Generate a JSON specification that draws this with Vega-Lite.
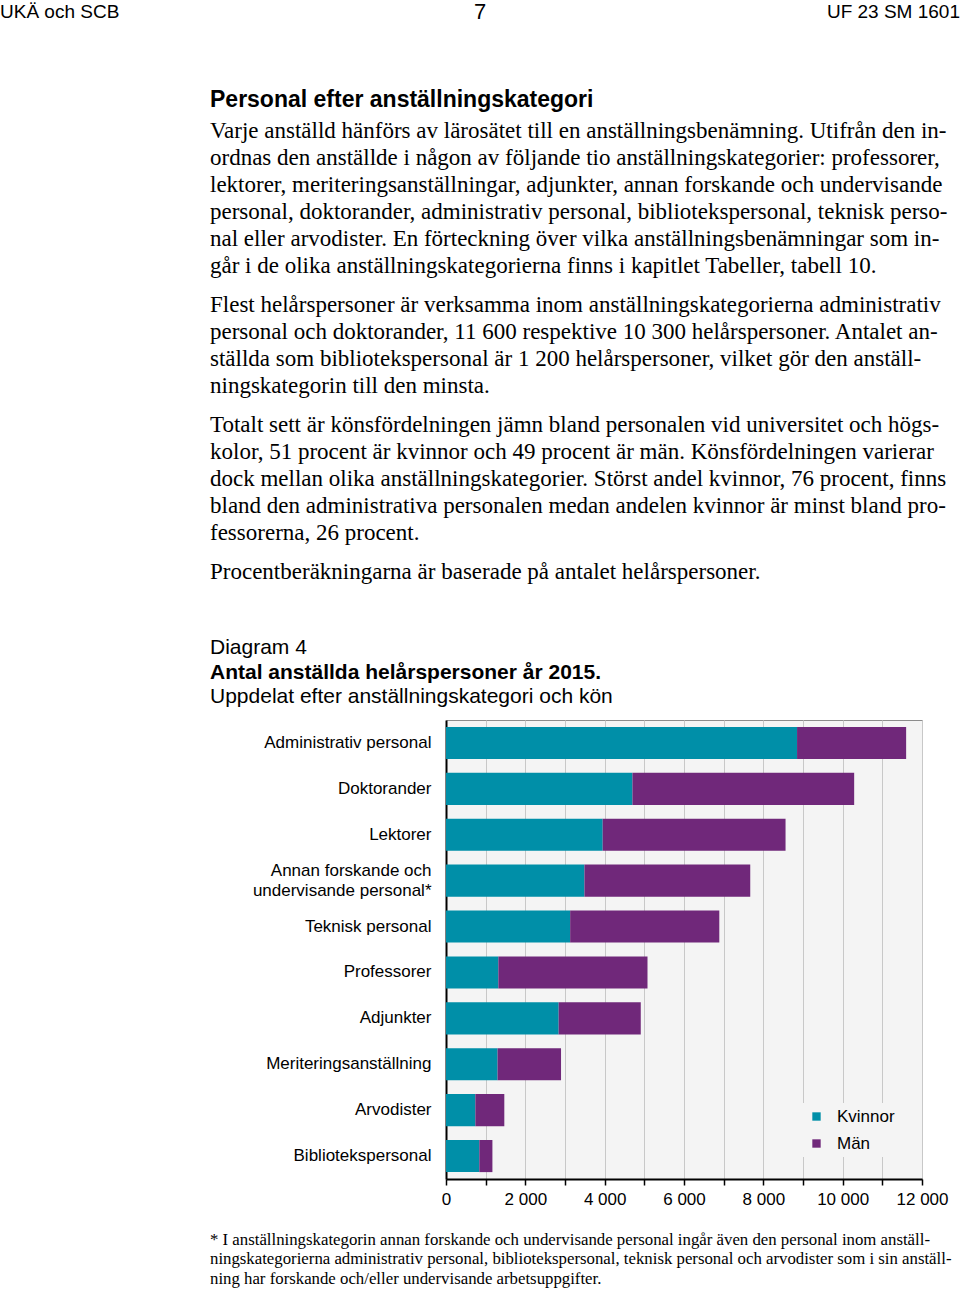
{
  "$schema": "https://vega.github.io/schema/vega-lite/v6.json",
  "padding": 0,
  "background": "white",
  "spacing": 59,
  "config": {"view": {"stroke": null}},
  "resolve": {"scale": {"color": "independent"}, "legend": {"color": "independent"}},
  "vconcat": [
    {
      "width": 960,
      "height": 24,
      "layer": [
        {
          "data": {"values": [{"text": "UKÄ och SCB"}]},
          "mark": {"type": "text", "align": "left", "baseline": "middle", "font": "Liberation Sans", "fontSize": 19, "fill": "black"},
          "encoding": {"text": {"field": "text"}, "x": {"value": 0}}
        },
        {
          "data": {"values": [{"text": "7"}]},
          "mark": {"type": "text", "align": "center", "baseline": "middle", "font": "Liberation Sans", "fontSize": 22, "fill": "black"},
          "encoding": {"text": {"field": "text"}}
        },
        {
          "data": {"values": [{"text": "UF 23 SM 1601"}]},
          "mark": {"type": "text", "align": "right", "baseline": "middle", "font": "Liberation Sans", "fontSize": 19, "fill": "black"},
          "encoding": {"text": {"field": "text"}, "x": {"value": "width"}}
        }
      ]
    },
    {
      "spacing": 0,
      "resolve": {"scale": {"color": "independent"}, "legend": {"color": "independent"}},
      "hconcat": [
        {
          "width": 210,
          "height": 1,
          "data": {"values": []},
          "mark": "point"
        },
        {
          "spacing": 51,
          "resolve": {"scale": {"color": "independent"}, "legend": {"color": "independent"}},
          "vconcat": [
            {
              "spacing": 12,
              "vconcat": [
                {
                  "spacing": 0,
                  "vconcat": [
                    {
                      "width": 750,
                      "height": 34,
                      "data": {"values": [{"text": "Personal efter anställningskategori"}]},
                      "mark": {"type": "text", "align": "left", "baseline": "middle", "font": "Liberation Sans", "fontSize": 23, "fontWeight": "bold", "fill": "black"},
                      "encoding": {"text": {"field": "text"}, "x": {"value": 0}}
                    },
                    {
                      "width": 750,
                      "height": 162,
                      "data": {"values": [
                        {"line": 1, "text": "Varje anställd hänförs av lärosätet till en anställningsbenämning. Utifrån den in-"},
                        {"line": 2, "text": "ordnas den anställde i någon av följande tio anställningskategorier: professorer,"},
                        {"line": 3, "text": "lektorer, meriteringsanställningar, adjunkter, annan forskande och undervisande"},
                        {"line": 4, "text": "personal, doktorander, administrativ personal, bibliotekspersonal, teknisk perso-"},
                        {"line": 5, "text": "nal eller arvodister. En förteckning över vilka anställningsbenämningar som in-"},
                        {"line": 6, "text": "går i de olika anställningskategorierna finns i kapitlet Tabeller, tabell 10."}
                      ]},
                      "mark": {"type": "text", "align": "left", "baseline": "middle", "font": "Liberation Serif", "fontSize": 23, "fill": "black"},
                      "encoding": {"x": {"value": 0}, "y": {"field": "line", "type": "ordinal", "axis": null}, "text": {"field": "text"}}
                    }
                  ]
                },
                {
                  "width": 750,
                  "height": 108,
                  "data": {"values": [
                    {"line": 1, "text": "Flest helårspersoner är verksamma inom anställningskategorierna administrativ"},
                    {"line": 2, "text": "personal och doktorander, 11 600 respektive 10 300 helårspersoner. Antalet an-"},
                    {"line": 3, "text": "ställda som bibliotekspersonal är 1 200 helårspersoner, vilket gör den anställ-"},
                    {"line": 4, "text": "ningskategorin till den minsta."}
                  ]},
                  "mark": {"type": "text", "align": "left", "baseline": "middle", "font": "Liberation Serif", "fontSize": 23, "fill": "black"},
                  "encoding": {"x": {"value": 0}, "y": {"field": "line", "type": "ordinal", "axis": null}, "text": {"field": "text"}}
                },
                {
                  "width": 750,
                  "height": 135,
                  "data": {"values": [
                    {"line": 1, "text": "Totalt sett är könsfördelningen jämn bland personalen vid universitet och högs-"},
                    {"line": 2, "text": "kolor, 51 procent är kvinnor och 49 procent är män. Könsfördelningen varierar"},
                    {"line": 3, "text": "dock mellan olika anställningskategorier. Störst andel kvinnor, 76 procent, finns"},
                    {"line": 4, "text": "bland den administrativa personalen medan andelen kvinnor är minst bland pro-"},
                    {"line": 5, "text": "fessorerna, 26 procent."}
                  ]},
                  "mark": {"type": "text", "align": "left", "baseline": "middle", "font": "Liberation Serif", "fontSize": 23, "fill": "black"},
                  "encoding": {"x": {"value": 0}, "y": {"field": "line", "type": "ordinal", "axis": null}, "text": {"field": "text"}}
                },
                {
                  "width": 750,
                  "height": 27,
                  "data": {"values": [
                    {"line": 1, "text": "Procentberäkningarna är baserade på antalet helårspersoner."}
                  ]},
                  "mark": {"type": "text", "align": "left", "baseline": "middle", "font": "Liberation Serif", "fontSize": 23, "fill": "black"},
                  "encoding": {"x": {"value": 0}, "y": {"field": "line", "type": "ordinal", "axis": null}, "text": {"field": "text"}}
                }
              ]
            },
            {
              "spacing": 22,
              "resolve": {"scale": {"color": "independent"}, "legend": {"color": "independent"}},
              "vconcat": [
                {
                  "spacing": 9,
                  "resolve": {"scale": {"color": "independent"}, "legend": {"color": "independent"}},
                  "vconcat": [
                    {
                      "width": 750,
                      "height": 73.5,
                      "layer": [
                        {
                          "data": {"values": [
                            {"line": 1, "text": "Diagram 4"},
                            {"line": 3, "text": "Uppdelat efter anställningskategori och kön"}
                          ]},
                          "mark": {"type": "text", "align": "left", "baseline": "middle", "font": "Liberation Sans", "fontSize": 21, "fill": "black"},
                          "encoding": {"x": {"value": 0}, "y": {"field": "line", "type": "ordinal", "axis": null, "scale": {"domain": [1, 2, 3]}}, "text": {"field": "text"}}
                        },
                        {
                          "data": {"values": [
                            {"line": 2, "text": "Antal anställda helårspersoner år 2015."}
                          ]},
                          "mark": {"type": "text", "align": "left", "baseline": "middle", "font": "Liberation Sans", "fontSize": 21, "fontWeight": "bold", "fill": "black"},
                          "encoding": {"x": {"value": 0}, "y": {"field": "line", "type": "ordinal", "axis": null, "scale": {"domain": [1, 2, 3]}}, "text": {"field": "text"}}
                        }
                      ]
                    },
                    {
                      "spacing": 0,
                      "resolve": {"scale": {"color": "independent"}, "legend": {"color": "independent"}},
                      "hconcat": [
                        {
                          "width": 1,
                          "height": 1,
                          "data": {"values": []},
                          "mark": "point"
                        },
                        {
                          "width": 476,
                          "height": 459,
                          "view": {"fill": "#f4f4f4", "stroke": "#8c8c8c", "strokeWidth": 1},
                          "data": {"values": [
                            {"kategori": "Administrativ personal", "kon": "Kvinnor", "antal": 8850},
                            {"kategori": "Administrativ personal", "kon": "Män", "antal": 2750},
                            {"kategori": "Doktorander", "kon": "Kvinnor", "antal": 4700},
                            {"kategori": "Doktorander", "kon": "Män", "antal": 5590},
                            {"kategori": "Lektorer", "kon": "Kvinnor", "antal": 3950},
                            {"kategori": "Lektorer", "kon": "Män", "antal": 4610},
                            {"kategori": "Annan forskande och undervisande personal*", "kon": "Kvinnor", "antal": 3490},
                            {"kategori": "Annan forskande och undervisande personal*", "kon": "Män", "antal": 4180},
                            {"kategori": "Teknisk personal", "kon": "Kvinnor", "antal": 3130},
                            {"kategori": "Teknisk personal", "kon": "Män", "antal": 3760},
                            {"kategori": "Professorer", "kon": "Kvinnor", "antal": 1320},
                            {"kategori": "Professorer", "kon": "Män", "antal": 3760},
                            {"kategori": "Adjunkter", "kon": "Kvinnor", "antal": 2840},
                            {"kategori": "Adjunkter", "kon": "Män", "antal": 2070},
                            {"kategori": "Meriteringsanställning", "kon": "Kvinnor", "antal": 1300},
                            {"kategori": "Meriteringsanställning", "kon": "Män", "antal": 1600},
                            {"kategori": "Arvodister", "kon": "Kvinnor", "antal": 740},
                            {"kategori": "Arvodister", "kon": "Män", "antal": 730},
                            {"kategori": "Bibliotekspersonal", "kon": "Kvinnor", "antal": 840},
                            {"kategori": "Bibliotekspersonal", "kon": "Män", "antal": 330}
                          ]},
                          "mark": {"type": "bar"},
                          "encoding": {
                            "y": {
                              "field": "kategori",
                              "type": "nominal",
                              "sort": ["Administrativ personal", "Doktorander", "Lektorer", "Annan forskande och undervisande personal*", "Teknisk personal", "Professorer", "Adjunkter", "Meriteringsanställning", "Arvodister", "Bibliotekspersonal"],
                              "scale": {"paddingInner": 0.3, "paddingOuter": 0.15},
                              "axis": {
                                "title": null,
                                "ticks": false,
                                "grid": false,
                                "labelPadding": 15,
                                "labelFont": "Liberation Sans",
                                "labelFontSize": 17,
                                "labelColor": "black",
                                "labelLimit": 400,
                                "labelLineHeight": 20,
                                "labelExpr": "datum.label == 'Annan forskande och undervisande personal*' ? ['Annan forskande och', 'undervisande personal*'] : datum.label",
                                "labelOffset": {"condition": {"test": "datum.value == 'Annan forskande och undervisande personal*'", "value": -10}, "value": 0},
                                "domainColor": "black",
                                "domainWidth": 2,
                                "minExtent": 234,
                                "maxExtent": 234
                              }
                            },
                            "x": {
                              "field": "antal",
                              "type": "quantitative",
                              "stack": "zero",
                              "scale": {"domain": [0, 12000], "nice": false},
                              "axis": {
                                "title": null,
                                "values": [0, 1000, 2000, 3000, 4000, 5000, 6000, 7000, 8000, 9000, 10000, 11000, 12000],
                                "labelExpr": "datum.value % 2000 === 0 ? replace(format(datum.value, ','), ',', ' ') : ''",
                                "labelOverlap": false,
                                "labelFlush": false,
                                "labelFont": "Liberation Sans",
                                "labelFontSize": 17,
                                "labelColor": "black",
                                "labelPadding": 6,
                                "grid": true,
                                "gridColor": "#c8c8c8",
                                "gridWidth": 1,
                                "tickColor": "black",
                                "tickSize": 6,
                                "tickWidth": 1.5,
                                "domainColor": "black",
                                "domainWidth": 2
                              }
                            },
                            "color": {
                              "field": "kon",
                              "type": "nominal",
                              "scale": {"domain": ["Kvinnor", "Män"], "range": ["#008fa8", "#70287a"]},
                              "legend": {
                                "title": null,
                                "orient": "bottom-right",
                                "offset": 22,
                                "fillColor": "#f4f4f4",
                                "padding": 5,
                                "symbolType": "square",
                                "symbolSize": 70,
                                "symbolStrokeWidth": 0,
                                "labelFont": "Liberation Sans",
                                "labelFontSize": 17,
                                "labelColor": "black",
                                "labelOffset": 12,
                                "rowPadding": 9
                              }
                            }
                          }
                        }
                      ]
                    }
                  ]
                },
                {
                  "width": 750,
                  "height": 58.5,
                  "data": {"values": [
                    {"line": 1, "text": "* I anställningskategorin annan forskande och undervisande personal ingår även den personal inom anställ-"},
                    {"line": 2, "text": "ningskategorierna administrativ personal, bibliotekspersonal, teknisk personal och arvodister som i sin anställ-"},
                    {"line": 3, "text": "ning har forskande och/eller undervisande arbetsuppgifter."}
                  ]},
                  "mark": {"type": "text", "align": "left", "baseline": "middle", "font": "Liberation Serif", "fontSize": 16.8, "fill": "black"},
                  "encoding": {"x": {"value": 0}, "y": {"field": "line", "type": "ordinal", "axis": null}, "text": {"field": "text"}}
                }
              ]
            }
          ]
        }
      ]
    }
  ]
}
